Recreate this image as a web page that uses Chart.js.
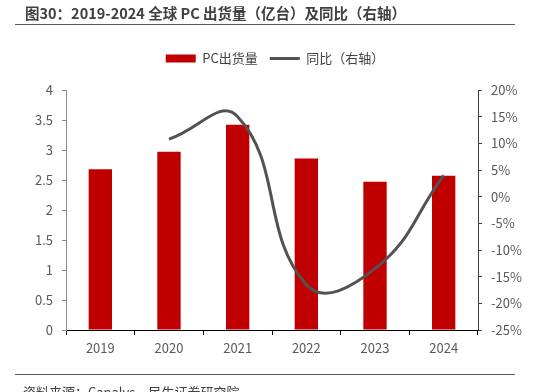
<!DOCTYPE html>
<html>
<head>
<meta charset="utf-8">
<script src="https://cdn.jsdelivr.net/npm/chart.js@4"></script>
<style>
  body { margin: 0; background: #fff; }
  #wrap { position: relative; width: 550px; height: 392px; }
</style>
</head>
<body>
<div id="wrap"><canvas id="pcChart"></canvas></div>
<script>
const years = ['2019', '2020', '2021', '2022', '2023', '2024'];
const shipments = [2.68, 2.97, 3.42, 2.86, 2.47, 2.57];
const yoy = [null, 10.8, 15.0, -16.5, -13.5, 4.0];

const titleText = '图30：2019-2024 全球 PC 出货量（亿台）及同比（右轴）';
const sourceText = '资料来源：Canalys，民生证券研究院';

const family = '"Noto Sans CJK SC", sans-serif';
const font = { family: family, size: 13 };

// extra room between the legend and the plot area
const legendGap = {
  id: 'legendGap',
  beforeInit(chart) {
    const fit = chart.legend.fit;
    chart.legend.fit = function () {
      fit.bind(chart.legend)();
      this.height += 15;
    };
  }
};

// report-style heading, rules and source line
const frame = {
  id: 'frame',
  afterDraw(chart) {
    const c = chart.ctx;
    c.save();
    c.fillStyle = '#404040';
    c.textAlign = 'left';
    c.textBaseline = 'middle';
    c.font = 'bold 14.5px ' + family;
    c.fillText(titleText, 25, 13);
    c.font = '13px ' + family;
    c.textBaseline = 'alphabetic';
    c.fillText(sourceText, 23, 397);
    c.strokeStyle = '#595959';
    c.lineWidth = 1;
    c.beginPath();
    c.moveTo(15, 24.5); c.lineTo(515, 24.5);
    c.moveTo(15, 374.5); c.lineTo(515, 374.5);
    c.stroke();
    c.restore();
  }
};

const ctx = document.getElementById('pcChart').getContext('2d');
const pcChart = new Chart(ctx, {
  type: 'bar',
  data: {
    labels: years,
    datasets: [{
      label: 'PC出货量',
      data: shipments,
      backgroundColor: '#C00000',
      borderWidth: 0,
      barPercentage: 0.68,
      categoryPercentage: 0.5,
      yAxisID: 'y',
      order: 1
    }, {
      type: 'line',
      label: '同比（右轴）',
      data: yoy,
      borderColor: '#525252',
      borderWidth: 3,
      pointRadius: 0,
      tension: 0.45,
      fill: false,
      yAxisID: 'y1',
      order: 0
    }]
  },
  plugins: [legendGap, frame],
  options: {
    responsive: true,
    maintainAspectRatio: false,
    animation: false,
    layout: { padding: { top: 40, bottom: 32, left: 0, right: 0 } },
    plugins: {
      tooltip: { enabled: false },
      legend: {
        position: 'top',
        labels: {
          font: font,
          color: '#404040',
          usePointStyle: true,
          pointStyleWidth: 30,
          boxHeight: 8,
          padding: 12,
          sort: (a, b) => a.datasetIndex - b.datasetIndex,
          generateLabels(chart) {
            const items = Chart.defaults.plugins.legend.labels.generateLabels(chart);
            items.forEach(it => {
              if (it.datasetIndex === 0) {
                it.pointStyle = 'rect';
                it.lineWidth = 0;
              } else {
                it.pointStyle = 'line';
                it.lineWidth = 3;
              }
            });
            return items;
          }
        }
      }
    },
    scales: {
      x: {
        grid: { display: true, drawOnChartArea: false, tickLength: 5, color: '#000' },
        border: { color: '#000', width: 1 },
        ticks: { font: font, color: '#595959', padding: 5 },
        afterFit: s => { s.height = 30; }
      },
      y: {
        position: 'left',
        min: 0,
        max: 4,
        grid: { display: true, drawOnChartArea: false, tickLength: 4, color: '#898989' },
        border: { color: '#898989', width: 1 },
        ticks: { font: font, color: '#595959', stepSize: 0.5, padding: 9, callback: v => String(v) },
        afterFit: s => { s.width = 66; }
      },
      y1: {
        position: 'right',
        min: -25,
        max: 20,
        grid: { display: true, drawOnChartArea: false, tickLength: 4, color: '#404040' },
        border: { color: '#404040', width: 1 },
        ticks: { font: font, color: '#595959', stepSize: 5, padding: 9, callback: v => v + '%' },
        afterFit: s => { s.width = 72; }
      }
    }
  }
});
</script>
</body>
</html>
